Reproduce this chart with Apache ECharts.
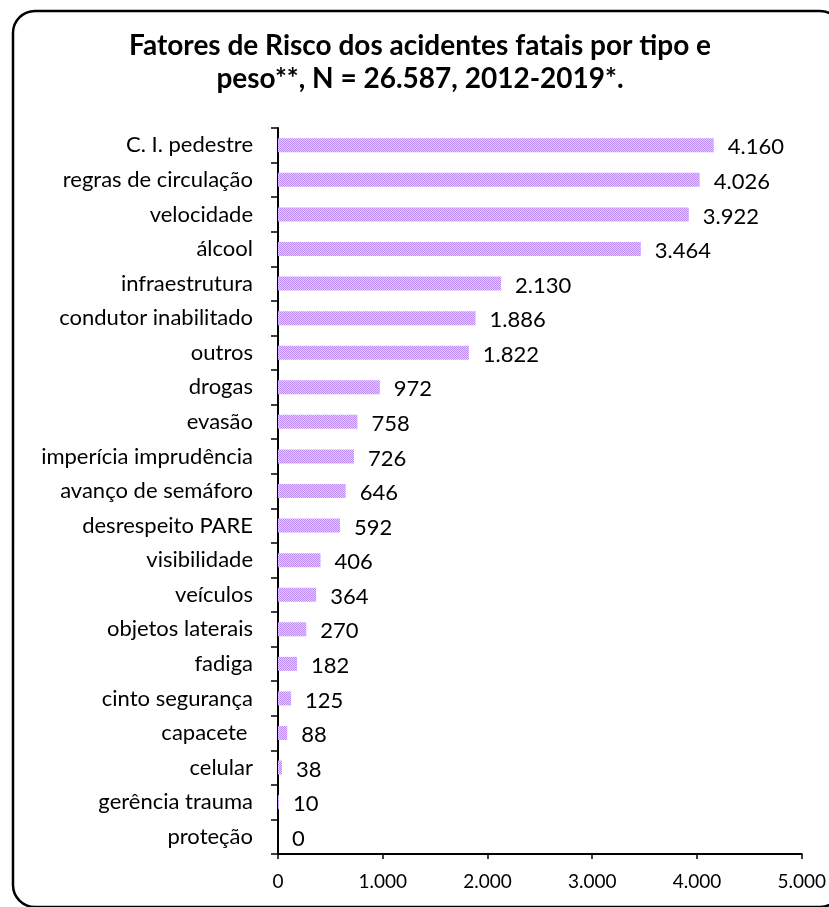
<!DOCTYPE html>
<html>
<head>
<meta charset="utf-8">
<script src="https://cdn.jsdelivr.net/npm/echarts@6/dist/echarts.min.js"></script>
<style>html,body{margin:0;padding:0;background:#fff}#c{width:829px;height:907px}</style>
</head>
<body>
<div id="c"></div>
<script>
const titleLines = ['Fatores de Risco dos acidentes fatais por tipo e', 'peso**, N = 26.587, 2012-2019*.'];
const categories = ['C. I. pedestre','regras de circulação','velocidade','álcool','infraestrutura','condutor inabilitado','outros','drogas','evasão','imperícia imprudência','avanço de semáforo','desrespeito PARE','visibilidade','veículos','objetos laterais','fadiga','cinto segurança','capacete ','celular','gerência trauma','proteção'];
const values = [4160,4026,3922,3464,2130,1886,1822,972,758,726,646,592,406,364,270,182,125,88,38,10,0];
const xTicks = [0,1000,2000,3000,4000,5000];

const fmt = v => String(v).replace(/\B(?=(\d{3})+(?!\d))/g, '.');
const FONT = 'Lato, "Open Sans", sans-serif';

// checker pattern for bar fill
const pc = document.createElement('canvas');
pc.width = 4; pc.height = 4;
const pctx = pc.getContext('2d');
pctx.fillStyle = '#e2cdfb'; pctx.fillRect(0,0,4,4);
pctx.fillStyle = '#bb8cf1';
pctx.fillRect(0,0,1,1); pctx.fillRect(2,0,1,1); pctx.fillRect(1,1,1,1); pctx.fillRect(3,1,1,1);
pctx.fillRect(0,2,1,1); pctx.fillRect(2,2,1,1); pctx.fillRect(1,3,1,1); pctx.fillRect(3,3,1,1);

const chart = echarts.init(document.getElementById('c'), null, {renderer:'canvas'});
chart.setOption({
  animation: false,
  backgroundColor: '#fff',
  title: {
    text: titleLines.join('\n'),
    left: 415, textAlign: 'center', top: 24,
    textStyle: {fontFamily: FONT, fontWeight: 'bold', fontSize: 28, color: '#000', lineHeight: 33}
  },
  graphic: [{
    type: 'rect', z: 100, silent: true,
    shape: {x: 13, y: 11, width: 829, height: 896, r: 22},
    style: {fill: 'none', stroke: '#000', lineWidth: 2.5}
  }],
  grid: {left: 278, right: 26, top: 128, bottom: 53},
  xAxis: {
    type: 'value', min: 0, max: 5000, interval: 1000,
    axisLine: {show: true, lineStyle: {color: '#000', width: 2}},
    axisTick: {show: true, length: 5, lineStyle: {color: '#000', width: 1.5}},
    splitLine: {show: false},
    axisLabel: {fontFamily: FONT, fontSize: 19, color: '#000', margin: 18,
      formatter: v => xTicks.includes(v) ? fmt(v) : ''}
  },
  yAxis: {
    type: 'category', data: categories, inverse: true,
    axisLine: {show: true, lineStyle: {color: '#000', width: 2}},
    axisTick: {show: true, length: 7, lineStyle: {color: '#000', width: 1.5}},
    axisLabel: {fontFamily: FONT, fontSize: 22, color: '#000', margin: 25}
  },
  series: [{
    type: 'bar', data: values, barWidth: 14,
    itemStyle: {color: {image: pc, repeat: 'repeat'}},
    label: {show: true, position: 'right', distance: 14, fontFamily: FONT, fontSize: 22, color: '#000',
      offset: [0, 2], formatter: p => fmt(p.value)}
  }]
});
</script>
</body>
</html>
